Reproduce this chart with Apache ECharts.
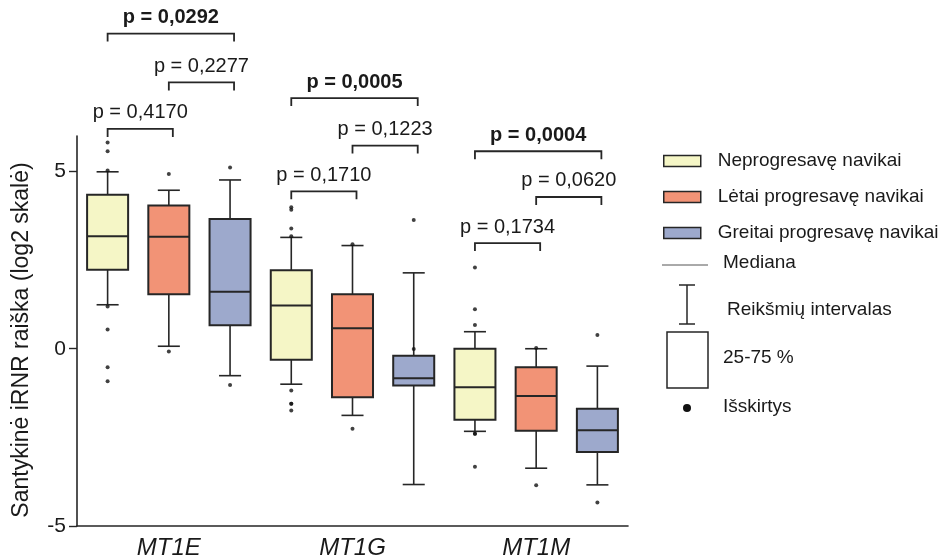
<!DOCTYPE html>
<html>
<head>
<meta charset="utf-8">
<script src="https://cdn.jsdelivr.net/npm/echarts@6/dist/echarts.min.js"></script>
<style>
  html, body { margin: 0; padding: 0; background: #fff; }
  #chart { width: 945px; height: 560px; }
</style>
</head>
<body>
<div id="chart"></div>
<script>
// Genes and tumour groups
const genes = ['MT1E', 'MT1G', 'MT1M'];
const groupNames = ['Neprogresavę navikai', 'Lėtai progresavę navikai', 'Greitai progresavę navikai'];
const groupColors = ['#F5F6C6', '#F29376', '#9DA9CC'];

// Box statistics per gene: [lower whisker, Q1, median, Q3, upper whisker]
const nonProgressive = [
  [1.24, 2.23, 3.17, 4.34, 4.99],
  [-1.00, -0.31, 1.22, 2.21, 3.14],
  [-2.33, -2.00, -1.09, 0.00, 0.48]
];
const slowProgressive = [
  [0.07, 1.54, 3.16, 4.04, 4.47],
  [-1.88, -1.37, 0.58, 1.54, 2.91],
  [-3.37, -2.31, -1.33, -0.52, 0.00]
];
const rapidProgressive = [
  [-0.76, 0.66, 1.61, 3.66, 4.76],
  [-3.83, -1.04, -0.83, -0.20, 2.14],
  [-3.84, -2.91, -2.30, -1.69, -0.49]
];

// Outlying values per gene
const nonProgressiveOutliers = [
  [5.82, 5.57, 5.03, 1.19, 0.54, -0.52, -0.92],
  [3.99, 3.92, 3.39, 3.17, -1.18, -1.55, -1.55, -1.74],
  [2.29, 1.11, 0.67, -2.40, -2.40, -3.33]
];
const slowProgressiveOutliers = [
  [4.93, -0.08],
  [2.95, -2.26],
  [0.02, -3.85]
];
const rapidProgressiveOutliers = [
  [5.11, -1.02],
  [3.63, -0.01],
  [0.39, -4.34]
];

// Pairwise comparisons within each gene
const comparisonGroups = [[0, 1], [1, 2], [0, 2]];
const pValues = [
  [0.4170, 0.2277, 0.0292],
  [0.1710, 0.1223, 0.0005],
  [0.1734, 0.0620, 0.0004]
];
// Height of each comparison bracket, in axis units
const bracketLevels = [
  [6.20, 7.51, 8.89],
  [4.44, 5.73, 7.07],
  [2.98, 4.28, 5.57]
];

const yTicks = [-5, 0, 5];

const groupStats = [nonProgressive, slowProgressive, rapidProgressive];
const groupOutliers = [nonProgressiveOutliers, slowProgressiveOutliers, rapidProgressiveOutliers];

// One category slot per gene/group pair
const categories = [];
genes.forEach(g => groupNames.forEach(n => categories.push(g + ' · ' + n)));
const slotOf = (gene, group) => gene * groupNames.length + group;

const FONT = '"Liberation Sans", Arial, sans-serif';
const INK = '#262626';

function renderBox(params, api) {
  const x = api.value(0);
  const lo = api.coord([x, api.value(1)]);
  const q1 = api.coord([x, api.value(2)]);
  const med = api.coord([x, api.value(3)]);
  const q3 = api.coord([x, api.value(4)]);
  const hi = api.coord([x, api.value(5)]);
  const slot = api.size([1, 0])[0];
  const bw = slot * 0.67;
  const cw = slot * 0.36;
  const cx = lo[0];
  const ws = { stroke: INK, lineWidth: 1.6 };
  return {
    type: 'group',
    children: [
      { type: 'line', shape: { x1: cx, y1: hi[1], x2: cx, y2: q3[1] }, style: ws },
      { type: 'line', shape: { x1: cx, y1: q1[1], x2: cx, y2: lo[1] }, style: ws },
      { type: 'line', shape: { x1: cx - cw / 2, y1: hi[1], x2: cx + cw / 2, y2: hi[1] }, style: ws },
      { type: 'line', shape: { x1: cx - cw / 2, y1: lo[1], x2: cx + cw / 2, y2: lo[1] }, style: ws },
      { type: 'rect', shape: { x: cx - bw / 2, y: q3[1], width: bw, height: q1[1] - q3[1] },
        style: { fill: api.visual('color'), stroke: INK, lineWidth: 2 } },
      { type: 'line', shape: { x1: cx - bw / 2, y1: med[1], x2: cx + bw / 2, y2: med[1] },
        style: { stroke: INK, lineWidth: 2 } }
    ]
  };
}

function renderBracket(params, api) {
  const a = api.coord([api.value(0), api.value(2)]);
  const b = api.coord([api.value(1), api.value(2)]);
  const p = api.value(3);
  const drop = 8;
  const xr = b[0] + 4;
  return {
    type: 'group',
    children: [
      { type: 'polyline',
        shape: { points: [[a[0], a[1] + drop], [a[0], a[1]], [xr, a[1]], [xr, a[1] + drop]] },
        style: { stroke: INK, lineWidth: 1.8, fill: null } },
      { type: 'text',
        x: (a[0] + xr) / 2, y: a[1] - 16,
        style: {
          text: 'p = ' + p.toFixed(4).replace('.', ','),
          align: 'center', verticalAlign: 'middle',
          font: (p < 0.05 ? 'bold ' : '') + '20px ' + FONT,
          fill: '#1a1a1a'
        } }
    ]
  };
}

const boxSeries = groupNames.map((name, k) => ({
  name: name,
  type: 'custom',
  renderItem: renderBox,
  itemStyle: { color: groupColors[k], borderColor: INK, borderWidth: 1.5 },
  encode: { x: 0, y: [1, 2, 3, 4, 5] },
  data: genes.map((g, gi) => [slotOf(gi, k)].concat(groupStats[k][gi])),
  z: 2
}));

const outlierData = [];
groupOutliers.forEach((perGene, k) => perGene.forEach((vals, gi) =>
  vals.forEach(v => outlierData.push([slotOf(gi, k), v]))));

const bracketData = [];
genes.forEach((g, gi) => comparisonGroups.forEach((pair, c) =>
  bracketData.push([slotOf(gi, pair[0]), slotOf(gi, pair[1]), bracketLevels[gi][c], pValues[gi][c]])));

const keyText = (txt, x, y) => ({
  type: 'text', left: x, top: y - 11,
  style: { text: txt, font: '19px ' + FONT, fill: '#1a1a1a', lineHeight: 22 }
});

const option = {
  animation: false,
  backgroundColor: '#ffffff',
  grid: { left: 77, right: 317, top: 136, bottom: 34 },
  legend: {
    data: groupNames,
    orient: 'vertical',
    left: 658,
    top: 145,
    icon: 'rect',
    itemWidth: 37,
    itemHeight: 11,
    itemGap: 14,
    selectedMode: false,
    itemStyle: { borderColor: INK, borderWidth: 1.5 },
    textStyle: { fontFamily: FONT, fontSize: 19, lineHeight: 22, color: '#1a1a1a', padding: [0, 0, 0, 12] }
  },
  xAxis: {
    type: 'category',
    data: categories,
    axisLine: { onZero: false, lineStyle: { color: INK, width: 1.6 } },
    axisTick: { show: false },
    axisLabel: {
      interval: 0,
      margin: 10,
      fontFamily: FONT, fontSize: 24, fontStyle: 'italic', color: '#1a1a1a',
      formatter: (v, i) => (i % groupNames.length === 1 ? genes[Math.floor(i / groupNames.length)] : '')
    },
    splitLine: { show: false }
  },
  yAxis: {
    type: 'value',
    min: -5,
    max: 6,
    interval: 5,
    name: 'Santykinė iRNR raiška (log2 skalė)',
    nameLocation: 'middle',
    nameRotate: 90,
    nameGap: 44,
    nameTextStyle: { fontFamily: FONT, fontSize: 23, color: '#1a1a1a', padding: [0, 18, 0, 0] },
    axisLine: { show: true, lineStyle: { color: INK, width: 1.6 } },
    axisTick: { show: true, length: 8, customValues: yTicks, lineStyle: { color: INK, width: 1.4 } },
    axisLabel: { customValues: yTicks, margin: 11, fontFamily: FONT, fontSize: 21, color: '#1a1a1a' },
    splitLine: { show: false }
  },
  series: boxSeries.concat([
    {
      name: 'Išskirtys',
      type: 'scatter',
      data: outlierData,
      symbol: 'circle',
      symbolSize: 4,
      itemStyle: { color: '#111' },
      z: 4
    },
    {
      name: 'p',
      type: 'custom',
      renderItem: renderBracket,
      encode: { x: [0, 1], y: 2 },
      data: bracketData,
      clip: false,
      z: 5
    }
  ]),
  graphic: [
    // Median key
    { type: 'line', shape: { x1: 662, y1: 265, x2: 708, y2: 265 }, style: { stroke: '#555', lineWidth: 1 } },
    keyText('Mediana', 723, 263),
    // Range key
    { type: 'group', children: [
      { type: 'line', shape: { x1: 687, y1: 285, x2: 687, y2: 324 }, style: { stroke: INK, lineWidth: 1.5 } },
      { type: 'line', shape: { x1: 679, y1: 285, x2: 695, y2: 285 }, style: { stroke: INK, lineWidth: 1.5 } },
      { type: 'line', shape: { x1: 679, y1: 324, x2: 695, y2: 324 }, style: { stroke: INK, lineWidth: 1.5 } }
    ] },
    keyText('Reikšmių intervalas', 727, 310),
    // Interquartile box key
    { type: 'rect', shape: { x: 667, y: 332, width: 41, height: 56 }, style: { fill: '#fff', stroke: INK, lineWidth: 1.5 } },
    keyText('25-75 %', 723, 358),
    // Outlier key
    { type: 'circle', shape: { cx: 687, cy: 408, r: 4 }, style: { fill: '#111' } },
    keyText('Išskirtys', 723, 407)
  ]
};

const chart = echarts.init(document.getElementById('chart'), null, { renderer: 'canvas' });
chart.setOption(option);
</script>
</body>
</html>
